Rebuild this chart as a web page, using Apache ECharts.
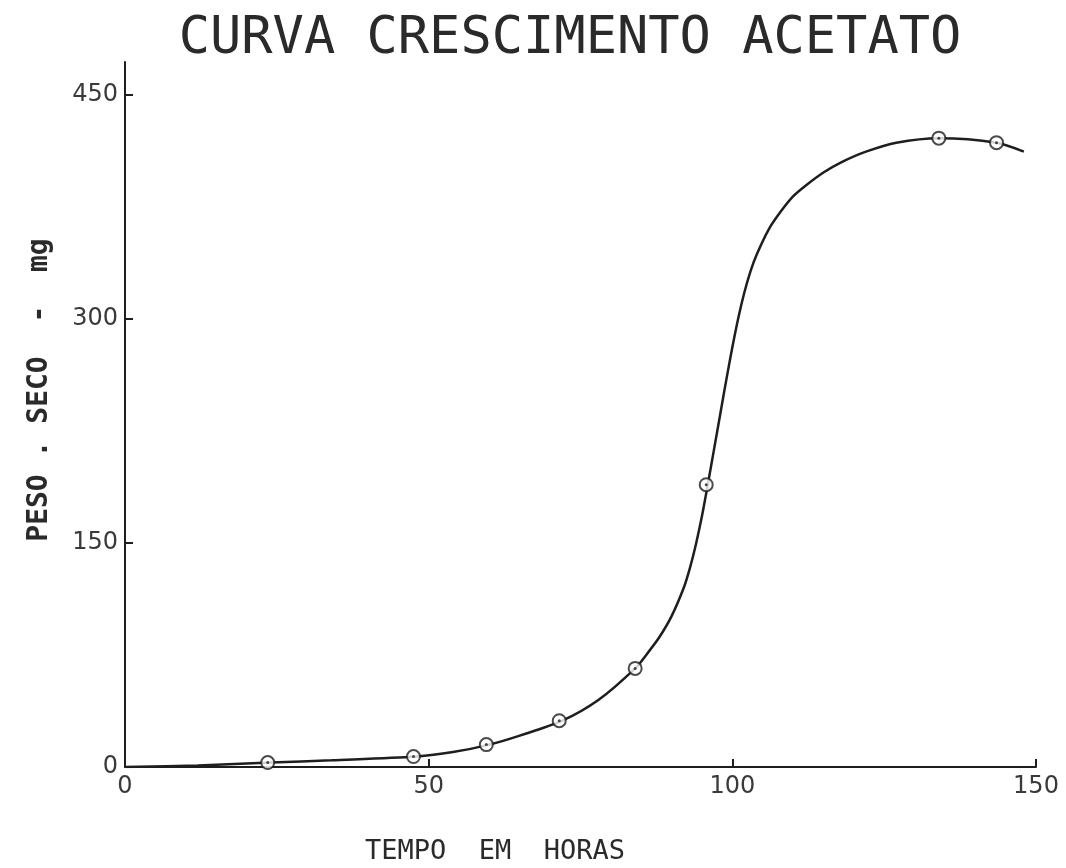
<!DOCTYPE html>
<html>
<head>
<meta charset="utf-8">
<script src="https://cdn.jsdelivr.net/npm/echarts@6/dist/echarts.min.js"></script>
<style>html,body{margin:0;padding:0;background:#fff;}#chart{width:1066px;height:868px;}</style>
</head>
<body>
<div id="chart"></div>
<script>
// Measured points (time in hours, dry weight in mg)
const pointHours = [23.5, 47.5, 59.5, 71.5, 84, 95.7, 134, 143.5];
const pointWeight = [3, 7, 15, 31, 66, 189, 421, 418];

// Hand-drawn fitted curve
const curveHours  = [0, 12, 24, 34, 48, 54, 60, 65, 72, 78, 84, 86, 88, 90, 92, 93, 94, 95, 96, 97, 98, 99, 100, 101, 102, 103, 104, 106, 108, 110, 112, 115, 118, 122, 127, 134, 143.5, 148];
const curveWeight = [0, 1, 3, 4.5, 7, 10, 15, 21, 31, 45, 66, 76, 87, 101, 120, 133, 149, 168, 190, 213, 236, 259, 281, 301, 318, 332, 343, 360, 372, 382, 389, 398, 405, 412, 418, 421, 418, 412];

const xTicks = [0, 50, 100, 150];
const yTicks = [0, 150, 300, 450];

const titleText = 'CURVA CRESCIMENTO ACETATO';
const xName = 'TEMPO  EM  HORAS';
const yName = 'PESO . SECO  -  mg';

const ink = '#1e1e1e';
const labelFont = { fontFamily: 'DejaVu Sans', fontSize: 24, color: '#3a3a3a' };

const chart = echarts.init(document.getElementById('chart'), null, { renderer: 'canvas' });
chart.setOption({
  backgroundColor: '#ffffff',
  animation: false,
  title: {
    text: titleText,
    left: 565, top: 8, textAlign: 'center',
    textStyle: { fontFamily: 'DejaVu Sans Mono', fontSize: 52, fontWeight: 'normal', color: '#2a2a2a' }
  },
  grid: { left: 125, right: 30, top: 62, bottom: 101, containLabel: false },
  xAxis: {
    type: 'value', min: 0, max: 150, interval: 50,
    axisLine: { lineStyle: { color: ink, width: 2 } },
    axisTick: { inside: true, length: 8, lineStyle: { color: ink, width: 2 }, customValues: xTicks },
    axisLabel: Object.assign({ margin: 8, customValues: xTicks }, labelFont),
    splitLine: { show: false }
  },
  yAxis: {
    type: 'value', min: 0, max: 472, interval: 150,
    axisLine: { show: true, lineStyle: { color: ink, width: 2 } },
    axisTick: { show: true, inside: true, length: 8, lineStyle: { color: ink, width: 2 }, customValues: yTicks },
    axisLabel: Object.assign({ margin: 7, customValues: yTicks }, labelFont),
    splitLine: { show: false }
  },
  graphic: [
    { type: 'text', x: 495, y: 852, style: { text: xName, textAlign: 'center', textVerticalAlign: 'middle', fontFamily: 'DejaVu Sans Mono', fontSize: 27, fill: '#2a2a2a' } },
    { type: 'text', x: 40, y: 390, rotation: Math.PI / 2, style: { text: yName, textAlign: 'center', textVerticalAlign: 'middle', fontFamily: 'DejaVu Sans Mono', fontSize: 28, fontWeight: 'bold', fill: '#2a2a2a' } }
  ],
  series: [
    {
      type: 'line', name: 'curve',
      data: curveHours.map((h, i) => [h, curveWeight[i]]),
      smooth: 0.3, showSymbol: false,
      lineStyle: { color: ink, width: 2.5 }, z: 2
    },
    {
      type: 'scatter', name: 'points',
      data: pointHours.map((h, i) => [h, pointWeight[i]]),
      symbol: 'circle', symbolSize: 13,
      itemStyle: { color: '#ffffff', borderColor: ink, borderWidth: 2 }, z: 3
    },
    {
      type: 'scatter', name: 'dots',
      data: pointHours.map((h, i) => [h, pointWeight[i]]),
      symbol: 'circle', symbolSize: 3,
      itemStyle: { color: ink }, z: 4
    }
  ]
});
</script>
</body>
</html>
